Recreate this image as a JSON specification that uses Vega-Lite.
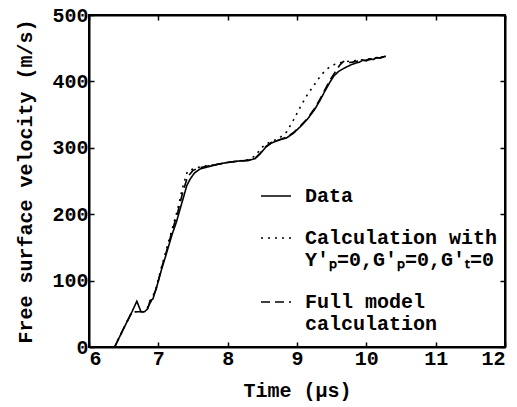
{
  "$schema": "https://vega.github.io/schema/vega-lite/v6.json",
  "width": 416,
  "height": 332,
  "autosize": "none",
  "padding": {"left": 89, "top": 15, "right": 12, "bottom": 60},
  "background": "white",
  "config": {
    "font": "Liberation Mono",
    "view": {"stroke": "black", "strokeWidth": 2},
    "axis": {
      "grid": false,
      "domainColor": "black",
      "domainWidth": 2,
      "tickColor": "black",
      "tickWidth": 1.5,
      "tickSize": -5,
      "labelColor": "black",
      "labelFont": "Liberation Mono",
      "labelFontSize": 20,
      "labelFontWeight": "bold",
      "titleColor": "black",
      "titleFont": "Liberation Mono",
      "titleFontSize": 20,
      "titleFontWeight": "bold"
    },
    "legend": {
      "labelFont": "Liberation Mono",
      "labelFontSize": 20,
      "labelFontWeight": "bold",
      "labelColor": "black",
      "labelLimit": 0
    }
  },
  "data": {
    "values": [
      {"t": 6.37, "v": 0, "s": "Data"},
      {"t": 6.5, "v": 28, "s": "Data"},
      {"t": 6.62, "v": 53, "s": "Data"},
      {"t": 6.69, "v": 69, "s": "Data"},
      {"t": 6.75, "v": 53, "s": "Data"},
      {"t": 6.8, "v": 53, "s": "Data"},
      {"t": 6.85, "v": 58, "s": "Data"},
      {"t": 6.88, "v": 70, "s": "Data"},
      {"t": 6.92, "v": 72, "s": "Data"},
      {"t": 6.97, "v": 88, "s": "Data"},
      {"t": 7.05, "v": 118, "s": "Data"},
      {"t": 7.12, "v": 142, "s": "Data"},
      {"t": 7.2, "v": 170, "s": "Data"},
      {"t": 7.26, "v": 188, "s": "Data"},
      {"t": 7.32, "v": 210, "s": "Data"},
      {"t": 7.37, "v": 228, "s": "Data"},
      {"t": 7.41, "v": 243, "s": "Data"},
      {"t": 7.46, "v": 253, "s": "Data"},
      {"t": 7.52, "v": 262, "s": "Data"},
      {"t": 7.6, "v": 268, "s": "Data"},
      {"t": 7.7, "v": 271, "s": "Data"},
      {"t": 7.85, "v": 275, "s": "Data"},
      {"t": 8.0, "v": 278, "s": "Data"},
      {"t": 8.15, "v": 280, "s": "Data"},
      {"t": 8.3, "v": 281, "s": "Data"},
      {"t": 8.4, "v": 284, "s": "Data"},
      {"t": 8.47, "v": 291, "s": "Data"},
      {"t": 8.55, "v": 301, "s": "Data"},
      {"t": 8.63, "v": 307, "s": "Data"},
      {"t": 8.72, "v": 311, "s": "Data"},
      {"t": 8.85, "v": 315, "s": "Data"},
      {"t": 8.95, "v": 322, "s": "Data"},
      {"t": 9.05, "v": 332, "s": "Data"},
      {"t": 9.15, "v": 343, "s": "Data"},
      {"t": 9.25, "v": 357, "s": "Data"},
      {"t": 9.33, "v": 371, "s": "Data"},
      {"t": 9.4, "v": 385, "s": "Data"},
      {"t": 9.47, "v": 398, "s": "Data"},
      {"t": 9.53, "v": 408, "s": "Data"},
      {"t": 9.6, "v": 415, "s": "Data"},
      {"t": 9.7, "v": 421, "s": "Data"},
      {"t": 9.8, "v": 426, "s": "Data"},
      {"t": 9.9, "v": 429, "s": "Data"},
      {"t": 9.95, "v": 432, "s": "Data"},
      {"t": 10.0, "v": 431, "s": "Data"},
      {"t": 10.05, "v": 434, "s": "Data"},
      {"t": 10.1, "v": 433, "s": "Data"},
      {"t": 10.15, "v": 436, "s": "Data"},
      {"t": 10.2, "v": 435, "s": "Data"},
      {"t": 10.28, "v": 438, "s": "Data"},

      {"t": 6.37, "v": 0, "s": "Calculation with|Y′ₚ=0,G′ₚ=0,G′ₜ=0"},
      {"t": 6.5, "v": 28, "s": "Calculation with|Y′ₚ=0,G′ₚ=0,G′ₜ=0"},
      {"t": 6.62, "v": 53, "s": "Calculation with|Y′ₚ=0,G′ₚ=0,G′ₜ=0"},
      {"t": 6.78, "v": 53, "s": "Calculation with|Y′ₚ=0,G′ₚ=0,G′ₜ=0"},
      {"t": 6.85, "v": 60, "s": "Calculation with|Y′ₚ=0,G′ₚ=0,G′ₜ=0"},
      {"t": 6.9, "v": 70, "s": "Calculation with|Y′ₚ=0,G′ₚ=0,G′ₜ=0"},
      {"t": 6.97, "v": 90, "s": "Calculation with|Y′ₚ=0,G′ₚ=0,G′ₜ=0"},
      {"t": 7.05, "v": 122, "s": "Calculation with|Y′ₚ=0,G′ₚ=0,G′ₜ=0"},
      {"t": 7.12, "v": 148, "s": "Calculation with|Y′ₚ=0,G′ₚ=0,G′ₜ=0"},
      {"t": 7.2, "v": 178, "s": "Calculation with|Y′ₚ=0,G′ₚ=0,G′ₜ=0"},
      {"t": 7.28, "v": 208, "s": "Calculation with|Y′ₚ=0,G′ₚ=0,G′ₜ=0"},
      {"t": 7.35, "v": 240, "s": "Calculation with|Y′ₚ=0,G′ₚ=0,G′ₜ=0"},
      {"t": 7.42, "v": 265, "s": "Calculation with|Y′ₚ=0,G′ₚ=0,G′ₜ=0"},
      {"t": 7.5, "v": 268, "s": "Calculation with|Y′ₚ=0,G′ₚ=0,G′ₜ=0"},
      {"t": 7.6, "v": 271, "s": "Calculation with|Y′ₚ=0,G′ₚ=0,G′ₜ=0"},
      {"t": 7.7, "v": 273, "s": "Calculation with|Y′ₚ=0,G′ₚ=0,G′ₜ=0"},
      {"t": 7.85, "v": 275, "s": "Calculation with|Y′ₚ=0,G′ₚ=0,G′ₜ=0"},
      {"t": 8.0, "v": 278, "s": "Calculation with|Y′ₚ=0,G′ₚ=0,G′ₜ=0"},
      {"t": 8.15, "v": 280, "s": "Calculation with|Y′ₚ=0,G′ₚ=0,G′ₜ=0"},
      {"t": 8.3, "v": 282, "s": "Calculation with|Y′ₚ=0,G′ₚ=0,G′ₜ=0"},
      {"t": 8.4, "v": 288, "s": "Calculation with|Y′ₚ=0,G′ₚ=0,G′ₜ=0"},
      {"t": 8.47, "v": 298, "s": "Calculation with|Y′ₚ=0,G′ₚ=0,G′ₜ=0"},
      {"t": 8.55, "v": 306, "s": "Calculation with|Y′ₚ=0,G′ₚ=0,G′ₜ=0"},
      {"t": 8.65, "v": 310, "s": "Calculation with|Y′ₚ=0,G′ₚ=0,G′ₜ=0"},
      {"t": 8.75, "v": 315, "s": "Calculation with|Y′ₚ=0,G′ₚ=0,G′ₜ=0"},
      {"t": 8.85, "v": 324, "s": "Calculation with|Y′ₚ=0,G′ₚ=0,G′ₜ=0"},
      {"t": 8.95, "v": 342, "s": "Calculation with|Y′ₚ=0,G′ₚ=0,G′ₜ=0"},
      {"t": 9.05, "v": 362, "s": "Calculation with|Y′ₚ=0,G′ₚ=0,G′ₜ=0"},
      {"t": 9.15, "v": 380, "s": "Calculation with|Y′ₚ=0,G′ₚ=0,G′ₜ=0"},
      {"t": 9.25, "v": 395, "s": "Calculation with|Y′ₚ=0,G′ₚ=0,G′ₜ=0"},
      {"t": 9.35, "v": 410, "s": "Calculation with|Y′ₚ=0,G′ₚ=0,G′ₜ=0"},
      {"t": 9.45, "v": 420, "s": "Calculation with|Y′ₚ=0,G′ₚ=0,G′ₜ=0"},
      {"t": 9.55, "v": 426, "s": "Calculation with|Y′ₚ=0,G′ₚ=0,G′ₜ=0"},
      {"t": 9.65, "v": 429, "s": "Calculation with|Y′ₚ=0,G′ₚ=0,G′ₜ=0"},
      {"t": 9.8, "v": 431, "s": "Calculation with|Y′ₚ=0,G′ₚ=0,G′ₜ=0"},
      {"t": 9.9, "v": 432, "s": "Calculation with|Y′ₚ=0,G′ₚ=0,G′ₜ=0"},
      {"t": 10.0, "v": 433, "s": "Calculation with|Y′ₚ=0,G′ₚ=0,G′ₜ=0"},
      {"t": 10.1, "v": 435, "s": "Calculation with|Y′ₚ=0,G′ₚ=0,G′ₜ=0"},
      {"t": 10.2, "v": 436, "s": "Calculation with|Y′ₚ=0,G′ₚ=0,G′ₜ=0"},
      {"t": 10.28, "v": 438, "s": "Calculation with|Y′ₚ=0,G′ₚ=0,G′ₜ=0"},

      {"t": 6.37, "v": 0, "s": "Full model|calculation"},
      {"t": 6.5, "v": 28, "s": "Full model|calculation"},
      {"t": 6.62, "v": 53, "s": "Full model|calculation"},
      {"t": 6.78, "v": 53, "s": "Full model|calculation"},
      {"t": 6.85, "v": 60, "s": "Full model|calculation"},
      {"t": 6.9, "v": 70, "s": "Full model|calculation"},
      {"t": 6.97, "v": 88, "s": "Full model|calculation"},
      {"t": 7.05, "v": 120, "s": "Full model|calculation"},
      {"t": 7.12, "v": 145, "s": "Full model|calculation"},
      {"t": 7.2, "v": 175, "s": "Full model|calculation"},
      {"t": 7.28, "v": 203, "s": "Full model|calculation"},
      {"t": 7.35, "v": 232, "s": "Full model|calculation"},
      {"t": 7.42, "v": 256, "s": "Full model|calculation"},
      {"t": 7.5, "v": 266, "s": "Full model|calculation"},
      {"t": 7.6, "v": 270, "s": "Full model|calculation"},
      {"t": 7.7, "v": 272, "s": "Full model|calculation"},
      {"t": 7.85, "v": 275, "s": "Full model|calculation"},
      {"t": 8.0, "v": 278, "s": "Full model|calculation"},
      {"t": 8.15, "v": 280, "s": "Full model|calculation"},
      {"t": 8.3, "v": 281, "s": "Full model|calculation"},
      {"t": 8.4, "v": 285, "s": "Full model|calculation"},
      {"t": 8.47, "v": 292, "s": "Full model|calculation"},
      {"t": 8.55, "v": 302, "s": "Full model|calculation"},
      {"t": 8.63, "v": 308, "s": "Full model|calculation"},
      {"t": 8.72, "v": 311, "s": "Full model|calculation"},
      {"t": 8.85, "v": 316, "s": "Full model|calculation"},
      {"t": 8.95, "v": 323, "s": "Full model|calculation"},
      {"t": 9.05, "v": 333, "s": "Full model|calculation"},
      {"t": 9.15, "v": 344, "s": "Full model|calculation"},
      {"t": 9.25, "v": 359, "s": "Full model|calculation"},
      {"t": 9.33, "v": 373, "s": "Full model|calculation"},
      {"t": 9.4, "v": 387, "s": "Full model|calculation"},
      {"t": 9.47, "v": 401, "s": "Full model|calculation"},
      {"t": 9.55, "v": 414, "s": "Full model|calculation"},
      {"t": 9.62, "v": 425, "s": "Full model|calculation"},
      {"t": 9.67, "v": 430, "s": "Full model|calculation"},
      {"t": 9.72, "v": 428, "s": "Full model|calculation"},
      {"t": 9.8, "v": 429, "s": "Full model|calculation"},
      {"t": 9.9, "v": 431, "s": "Full model|calculation"},
      {"t": 10.0, "v": 432, "s": "Full model|calculation"},
      {"t": 10.1, "v": 434, "s": "Full model|calculation"},
      {"t": 10.2, "v": 436, "s": "Full model|calculation"},
      {"t": 10.28, "v": 438, "s": "Full model|calculation"}
    ]
  },
  "layer": [
    {
      "mark": {"type": "line", "color": "black", "strokeWidth": 1.6},
      "encoding": {
        "x": {
          "field": "t", "type": "quantitative",
          "scale": {"domain": [6, 12], "nice": false, "zero": false},
          "axis": {"orient": "bottom", "values": [6, 7, 8, 9, 10, 11, 12], "title": "Time (μs)", "labelPadding": 6, "titlePadding": 12}
        },
        "y": {
          "field": "v", "type": "quantitative",
          "scale": {"domain": [0, 500], "nice": false},
          "axis": {"orient": "left", "values": [0, 100, 200, 300, 400, 500], "title": "Free surface velocity (m/s)", "labelPadding": 6, "titlePadding": 16}
        },
        "strokeDash": {
          "field": "s", "type": "nominal",
          "scale": {
            "domain": ["Data", "Calculation with|Y′ₚ=0,G′ₚ=0,G′ₜ=0", "Full model|calculation"],
            "range": [[1, 0], [2, 5], [9, 5]]
          },
          "legend": {
            "title": null,
            "orient": "none",
            "legendX": 171,
            "legendY": 165,
            "symbolType": "stroke",
            "symbolSize": 900,
            "symbolStrokeColor": "black",
            "symbolStrokeWidth": 1.6,
            "labelOffset": 13,
            "labelExpr": "split(datum.label, '|')",
            "rowPadding": 16
          }
        }
      }
    },
    {
      "mark": {"type": "line", "opacity": 0},
      "encoding": {
        "x": {
          "field": "t", "type": "quantitative",
          "axis": {"orient": "top", "values": [6, 7, 8, 9, 10, 11, 12], "labels": false, "title": null}
        },
        "y": {
          "field": "v", "type": "quantitative",
          "axis": {"orient": "right", "values": [0, 100, 200, 300, 400, 500], "labels": false, "title": null}
        }
      }
    }
  ],
  "resolve": {"axis": {"x": "independent", "y": "independent"}}
}
